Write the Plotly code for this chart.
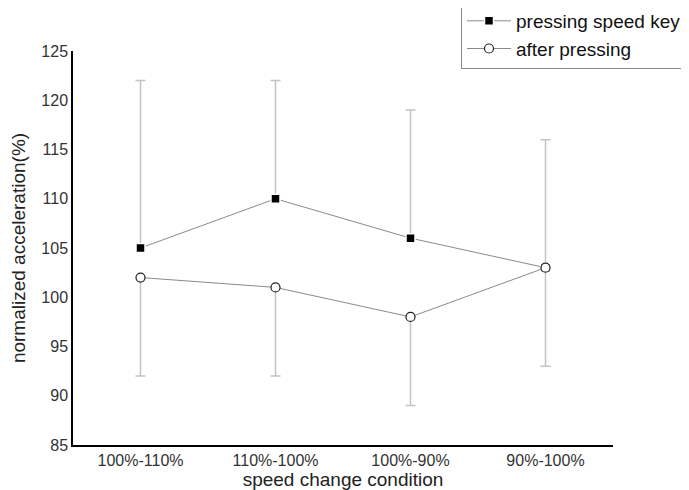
import plotly.graph_objects as go

categories = ["100%-110%", "110%-100%", "100%-90%", "90%-100%"]
pressing = [105, 110, 106, 103]
pressing_err_up = [17, 12, 13, 13]
after = [102, 101, 98, 103]
after_err_down = [10, 9, 9, 10]
y_ticks = [85, 90, 95, 100, 105, 110, 115, 120, 125]

font_family = "Liberation Sans, Arial, sans-serif"

fig = go.Figure()
fig.add_trace(go.Scatter(
    x=categories, y=pressing, name="pressing speed key",
    mode="lines+markers",
    line=dict(color="#8a8a8a", width=1),
    marker=dict(symbol="square", size=9, color="black",
                line=dict(color="white", width=1.5)),
    error_y=dict(type="data", symmetric=False, array=pressing_err_up,
                 arrayminus=[0] * len(pressing), color="#c4c4c4",
                 thickness=1.5, width=5),
))
fig.add_trace(go.Scatter(
    x=categories, y=after, name="after pressing",
    mode="lines+markers",
    line=dict(color="#8a8a8a", width=1),
    marker=dict(symbol="circle", size=9, color="white",
                line=dict(color="#222222", width=1.2)),
    error_y=dict(type="data", symmetric=False, array=[0] * len(after),
                 arrayminus=after_err_down, color="#c4c4c4",
                 thickness=1.5, width=5),
))

# page body has an 8px default margin, so the figure is 8px smaller
fig.update_layout(
    width=681, height=482,
    margin=dict(l=65, r=76, t=43, b=45, autoexpand=False),
    paper_bgcolor="white", plot_bgcolor="white",
    font=dict(family=font_family, color="#222222"),
    showlegend=True,
    legend=dict(
        x=0.7185, y=1.127, xanchor="left", yanchor="top",
        bordercolor="#888888", borderwidth=1,
        font=dict(size=19, family=font_family, color="#111111"),
        tracegroupgap=0, itemwidth=44,
    ),
    xaxis=dict(
        type="category", range=[-0.5, 3.5],
        showline=True, linecolor="black", linewidth=1.5,
        showgrid=False, zeroline=False, ticks="",
        tickfont=dict(size=16, color="#333333"),
        title=dict(text="speed change condition", font=dict(size=19),
                   standoff=8),
        automargin=False,
    ),
    yaxis=dict(
        range=[85, 125], tickvals=y_ticks,
        showline=True, linecolor="black", linewidth=1.5,
        showgrid=False, zeroline=False, ticks="",
        tickfont=dict(size=16, color="#333333"),
        title=dict(text="normalized acceleration(%)", font=dict(size=19),
                   standoff=11),
        automargin=False,
    ),
)

fig.write_html("out.html")
